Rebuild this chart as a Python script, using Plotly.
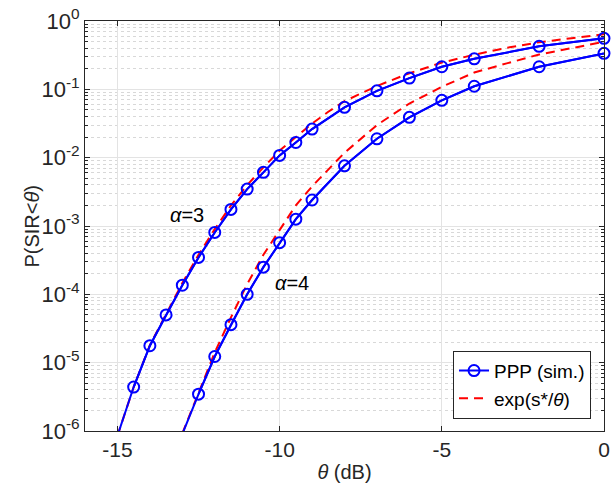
import plotly.graph_objects as go

# theta in dB, P(SIR < theta)
theta_sim_a3 = [-15, -14.5, -14, -13.5, -13, -12.5, -12, -11.5, -11, -10.5, -10, -9.5, -9, -8, -7, -6, -5, -4, -2, 0]
p_sim_a3 = [8.5e-7, 4.4e-6, 1.77e-5, 5.0e-5, 1.36e-4, 3.47e-4, 8.05e-4, 1.75e-3, 3.47e-3, 6.1e-3,
            1.08e-2, 1.67e-2, 2.62e-2, 5.45e-2, 9.5e-2, 0.146, 0.214, 0.28, 0.426, 0.558]

theta_sim_a4 = [-13, -12.5, -12, -11.5, -11, -10.5, -10, -9.5, -9, -8, -7, -6, -5, -4, -2, 0]
p_sim_a4 = [9e-7, 3.46e-6, 1.23e-5, 3.6e-5, 1.0e-4, 2.5e-4, 5.7e-4, 1.26e-3, 2.4e-3, 7.6e-3,
            1.89e-2, 3.89e-2, 6.9e-2, 0.111, 0.214, 0.336]

theta_exp_a3 = [-15, -14.5, -14, -13.5, -13, -12.5, -12, -11.5, -11, -10.5, -10, -9.5, -9, -8.5, -8,
                -7, -6, -5, -4, -3, -2, -1, 0]
p_exp_a3 = [8.5e-7, 4.4e-6, 1.81e-5, 5.24e-5, 1.46e-4, 3.8e-4, 9.0e-4, 2.0e-3, 3.98e-3, 7.2e-3,
            1.27e-2, 2.0e-2, 3.15e-2, 4.7e-2, 6.7e-2, 0.112, 0.172, 0.246, 0.321, 0.405, 0.489, 0.56, 0.64]

theta_exp_a4 = [-13, -12.5, -12, -11.5, -11, -10.5, -10, -9.5, -9, -8.5, -8, -7, -6, -5, -4, -3, -2, -1, 0]
p_exp_a4 = [9.2e-7, 3.7e-6, 1.41e-5, 4.6e-5, 1.41e-4, 3.8e-4, 8.8e-4, 2.0e-3, 3.8e-3, 6.8e-3,
            1.18e-2, 3.0e-2, 6.2e-2, 0.109, 0.176, 0.24, 0.323, 0.40, 0.497]

y_tickvals = [1e-6, 1e-5, 1e-4, 1e-3, 1e-2, 1e-1, 1]
y_ticktext = ['10<sup>-6</sup>', '10<sup>-5</sup>', '10<sup>-4</sup>', '10<sup>-3</sup>',
              '10<sup>-2</sup>', '10<sup>-1</sup>', '10<sup>0</sup>']
x_tickvals = [-15, -10, -5, 0]

blue = '#0000ff'
red = '#ff0000'
ax_col = '#262626'
font = 'Liberation Sans'
fs = 20
y_floor = 1e-6


def sim_traces(x, y, legend):
    # full line (clipped at the axes) plus markers for the points inside the axes
    inside = [(a, b) for a, b in zip(x, y) if b >= y_floor]
    line = go.Scatter(x=x, y=y, mode='lines', line=dict(color=blue, width=2),
                      showlegend=False, hoverinfo='skip')
    marks = go.Scatter(x=[a for a, _ in inside], y=[b for _, b in inside],
                       mode='lines+markers', line=dict(color=blue, width=2),
                       cliponaxis=False, name='PPP (sim.)', showlegend=legend, legendrank=1,
                       marker=dict(symbol='circle-open', size=11, color=blue,
                                   line=dict(width=2)))
    return [line, marks]


def exp_trace(x, y, **kw):
    return go.Scatter(x=x, y=y, mode='lines',
                      line=dict(color=red, width=2, dash='9px,6px'), **kw)


fig = go.Figure()
fig.add_trace(exp_trace(theta_exp_a3, p_exp_a3, name='exp(s*/<i>θ</i>)', legendrank=2))
fig.add_trace(exp_trace(theta_exp_a4, p_exp_a4, showlegend=False))
fig.add_traces(sim_traces(theta_sim_a3, p_sim_a3, True))
fig.add_traces(sim_traces(theta_sim_a4, p_sim_a4, False))

fig.add_annotation(x=-12.85, y=-2.84, text='<i>α</i>=3', showarrow=False,
                   font=dict(size=fs, color='black', family=font))
fig.add_annotation(x=-9.62, y=-3.84, text='<i>α</i>=4', showarrow=False,
                   font=dict(size=fs, color='black', family=font))
# y axis title, placed by hand to sit close to the left edge like the original
fig.add_annotation(xref='paper', yref='paper', x=-0.128, y=0.5, textangle=-90,
                   text='P(SIR<<i>θ</i>)', showarrow=False,
                   font=dict(size=fs, color=ax_col, family=font))

fig.update_layout(
    width=611, height=485,
    margin=dict(l=85, r=7, t=21, b=54),
    paper_bgcolor='white', plot_bgcolor='white',
    font=dict(family=font, size=fs, color=ax_col),
    showlegend=True,
    legend=dict(x=0.975, y=0.03, xanchor='right', yanchor='bottom',
                bgcolor='white', bordercolor=ax_col, borderwidth=1,
                font=dict(size=19, color='black'), tracegroupgap=0,
                itemwidth=30),
    xaxis=dict(
        range=[-16, 0], tickvals=x_tickvals, ticktext=['-15', '-10', '-5', '0'],
        showline=True, linecolor=ax_col, linewidth=1, mirror='ticks',
        ticks='inside', ticklen=5, tickcolor=ax_col, tickfont=dict(size=21),
        showgrid=True, gridcolor='#e3e3e3', gridwidth=1, zeroline=False,
        automargin=False,
        title=dict(text='<i>θ</i> (dB)', font=dict(size=fs, color=ax_col), standoff=4),
    ),
    yaxis=dict(
        type='log', range=[-6, 0], tickvals=y_tickvals, ticktext=y_ticktext,
        showline=True, linecolor=ax_col, linewidth=1, mirror='ticks',
        ticks='inside', ticklen=5, tickcolor=ax_col, tickfont=dict(size=22),
        showgrid=True, gridcolor='#e3e3e3', gridwidth=1, zeroline=False,
        automargin=False,
        minor=dict(dtick='D1', ticks='inside', ticklen=3, tickcolor=ax_col,
                   showgrid=True, gridcolor='#d8d8d8', griddash='dot', gridwidth=1),
    ),
)

# drop the default 8px page margin so the figure sits at the window's corner
fig.write_html('out.html', config={'displayModeBar': False},
               post_script="document.body.style.margin='0';")
